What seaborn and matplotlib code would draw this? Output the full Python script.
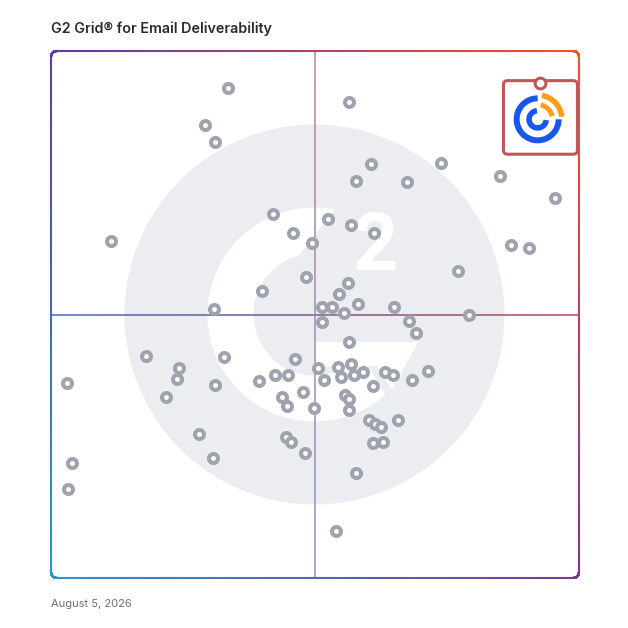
import numpy as np
import matplotlib
matplotlib.use("Agg")
import matplotlib.pyplot as plt
import matplotlib.colors as mcolors
import pandas as pd
import seaborn as sns
from matplotlib.collections import LineCollection
from matplotlib.patches import Arc, Ellipse, FancyBboxPatch, Polygon

title = "G2 Grid® for Email Deliverability"
date_label = "August 5, 2026"

# satisfaction (x) and market presence (y), 0-100 grid scale
satisfaction = [
    33.5, 29.2, 31.0, 56.5, 60.6, 73.8, 57.8, 67.5, 85.1, 95.5,
    11.3, 42.1, 52.5, 56.9, 45.8, 61.2, 49.4, 87.2, 90.6, 77.0,
    48.3, 56.3, 39.9, 54.6, 30.9, 51.4, 53.3, 58.2, 65.0, 55.5,
    79.2, 51.4, 67.8, 69.1, 56.4, 3.0, 18.0, 32.7, 46.3, 24.2,
    23.9, 31.0, 21.8, 39.4, 42.5, 44.9, 50.6, 54.4, 56.9, 59.1,
    54.9, 57.4, 51.7, 61.0, 63.2, 64.7, 68.3, 71.4, 47.7, 43.8,
    44.7, 49.8, 55.6, 56.4, 56.4, 60.2, 61.4, 62.5, 65.8, 61.0,
    62.9, 28.0, 30.6, 44.6, 45.4, 48.2, 57.7, 4.0, 3.2, 54.0,
]
market_presence = [
    93.0, 86.0, 82.8, 90.3, 78.6, 78.7, 75.4, 75.1, 76.2, 72.1,
    64.0, 69.0, 68.2, 67.0, 65.4, 65.4, 63.6, 63.2, 62.6, 58.2,
    57.1, 55.9, 54.5, 53.9, 51.0, 51.4, 51.5, 51.9, 51.5, 50.2,
    49.9, 48.5, 48.7, 46.4, 44.7, 37.0, 42.1, 42.0, 41.5, 39.9,
    37.8, 36.6, 34.4, 37.3, 38.5, 38.5, 39.8, 40.1, 40.6, 39.1,
    38.2, 38.6, 37.5, 36.5, 39.0, 38.5, 37.6, 39.3, 35.3, 34.4,
    32.7, 32.3, 34.7, 33.9, 31.9, 29.9, 29.2, 28.7, 30.0, 25.7,
    25.9, 27.3, 22.8, 26.7, 25.9, 23.7, 20.0, 21.8, 16.9, 8.9,
]
featured_satisfaction = [92.7]
featured_presence = [94.0]

W = 628
box_l, box_t, box_r, box_b = 51, 51, 579, 578
sx = (box_r - box_l) / 100
sy = (box_b - box_t) / 100


def P(px, py):
    return (px - box_l) / sx, (box_b - py) / sy


corner = {k: np.array(mcolors.to_rgb(c)) for k, c in
          dict(tl="#5b3da6", tr="#f5502a", bl="#2b96d4", br="#7a3a90").items()}


def grad(x, y):
    u = np.clip(x / 100, 0, 1)[:, None]
    v = np.clip(1 - y / 100, 0, 1)[:, None]
    top = corner["tl"] * (1 - u) + corner["tr"] * u
    bot = corner["bl"] * (1 - u) + corner["br"] * u
    return top * (1 - v) + bot * v


def grad_line(ax, pts, lw, fade=0.0, z=2, cap="butt"):
    pts = np.asarray(pts)
    dense = []
    for a, b in zip(pts[:-1], pts[1:]):
        t = np.linspace(0, 1, 30, endpoint=False)[:, None]
        dense.append(a + (b - a) * t)
    dense.append(pts[-1:])
    dense = np.vstack(dense)
    segs = np.stack([dense[:-1], dense[1:]], axis=1)
    mid = segs.mean(axis=1)
    cols = grad(mid[:, 0], mid[:, 1]) * (1 - fade) + fade  # lighten toward white
    lc = LineCollection(segs, colors=cols, linewidths=lw, capstyle=cap,
                        joinstyle="round", zorder=z, clip_on=False)
    ax.add_collection(lc)


fig = plt.figure(figsize=(6.28, 6.28), dpi=100)
ax = fig.add_axes([box_l / W, (W - box_b) / W, (box_r - box_l) / W, (box_b - box_t) / W])
ax.set_xlim(0, 100)
ax.set_ylim(0, 100)
ax.axis("off")

# G2 watermark
cx, cy = 314.5, 314.5
ax.add_patch(Ellipse(P(cx, cy), 2 * 190 / sx, 2 * 190 / sy, color="#ebedf0", lw=0, zorder=0))
a_out = np.radians(np.linspace(79, 311.5, 200))
a_in = np.radians(np.linspace(319.5, 105, 200))
ring = [P(cx + 107 * np.cos(a), cy - 107 * np.sin(a)) for a in a_out]
ring += [P(cx + 61 * np.cos(a), cy - 61 * np.sin(a)) for a in a_in]
ax.add_patch(Polygon(ring, closed=True, color="white", lw=0, zorder=0.5))
bar = [P(314.5, 342), P(418, 342), P(392, 390), P(377.5, 366), P(314.5, 366)]
ax.add_patch(Polygon(bar, closed=True, color="white", lw=0, zorder=0.5))
ax.text(*P(352, 270), "2", fontsize=57, fontweight="bold", family="Roboto",
        color="white", ha="left", va="baseline", zorder=0.6)

# quadrant lines
grad_line(ax, [(0, 50), (100, 50)], lw=1.1, z=1)
grad_line(ax, [(50, 100), (50, 0)], lw=1.1, fade=0.3, z=1)

# rounded border
rx, ry = 6 / sx, 6 / sy
pts = []
for (ccx, ccy, a0) in [(100 - rx, 100 - ry, 0), (rx, 100 - ry, 90), (rx, ry, 180), (100 - rx, ry, 270)]:
    th = np.radians(np.linspace(a0, a0 + 90, 10))
    pts += list(zip(ccx + rx * np.cos(th), ccy + ry * np.sin(th)))
pts.append(pts[0])
grad_line(ax, pts, lw=1.5, z=2, cap="round")

df = pd.DataFrame({"satisfaction": satisfaction, "presence": market_presence})
sns.scatterplot(data=df, x="satisfaction", y="presence", ax=ax, s=42, color="white",
                edgecolor="#9ea3ad", linewidth=2.9, legend=False, zorder=3, clip_on=False)

# featured product (Constant Contact)
fx, fy = featured_satisfaction[0], featured_presence[0]
red = "#c0585a"
top = fy + 2 / sy
ax.add_patch(FancyBboxPatch((fx - 37 / sx, top - 73.6 / sy), 74 / sx, 73.6 / sy,
                            boxstyle="round,pad=0,rounding_size=0.8", fc="white",
                            ec=red, lw=2.2, zorder=5, clip_on=False))
sns.scatterplot(x=featured_satisfaction, y=featured_presence, ax=ax, s=60, color="white",
                edgecolor=red, linewidth=2.2, legend=False, zorder=6, clip_on=False)
lc = (fx - 2.8 / sx, fy - 36.7 / sy)
for r, t1, t2, lw, col in [(21, 90, 360, 4.3, "#1856ed"), (24.3, 6, 80, 4.0, "#ff9e1b"),
                           (14.8, 12, 78, 3.6, "#ff9e1b"), (8.6, 95, 355, 4.0, "#1856ed")]:
    ax.add_patch(Arc(lc, 2 * r / sx, 2 * r / sy, theta1=t1, theta2=t2, lw=lw, color=col,
                     capstyle="butt", zorder=7, clip_on=False))

fig.text(box_l / W, 1 - 29 / W, title, ha="left", va="center", fontsize=10.3,
         fontweight="semibold", family=["Inter", "DejaVu Sans"], color="#2b2b2b")
fig.text(box_l / W, 1 - 604 / W, date_label, ha="left", va="center", fontsize=8,
         family=["Inter", "DejaVu Sans"], color="#707070")

fig.savefig("out.png", dpi=100, facecolor="white")
